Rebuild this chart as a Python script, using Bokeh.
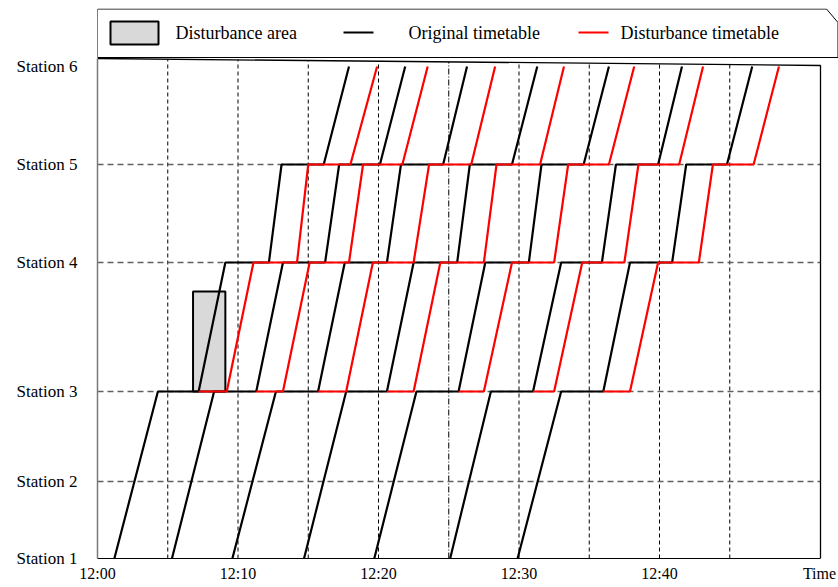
from bokeh.plotting import figure
from bokeh.models import ColumnDataSource, FixedTicker
from bokeh.embed import file_html
from bokeh.resources import INLINE
from bokeh.core.properties import value

# ---------------- data ----------------
station_names = ["Station 1", "Station 2", "Station 3", "Station 4", "Station 5", "Station 6"]
station_km = [0.0, 7.7, 16.7, 29.6, 39.4, 49.2]

time_ticks = [0, 10, 20, 30, 40]              # minutes after 12:00
time_labels = ["12:00", "12:10", "12:20", "12:30", "12:40"]
axis_title = "Time"
grid_minutes = [5, 10, 15, 20, 30, 35, 40, 45]
dashdot_minutes = [25]

train_ids = ["A", "B", "C", "D", "E", "F", "G"]

# original timetable: station index of each point and time (min after 12:00)
original_stops = [0, 2, 2, 3, 3, 4, 4, 5]
original_times = [
    [1.2, 4.3, 7.2, 9.1, 12.2, 13.1, 16.1, 17.9],
    [5.3, 8.3, 11.3, 13.2, 16.2, 17.2, 20.1, 21.9],
    [9.6, 12.7, 15.7, 17.6, 20.6, 21.6, 24.6, 26.3],
    [14.7, 17.7, 20.6, 22.5, 25.6, 26.5, 29.5, 31.3],
    [19.7, 22.7, 25.7, 27.6, 30.7, 31.6, 34.6, 36.4],
    [25.1, 28.0, 31.0, 33.0, 35.9, 36.9, 39.9, 41.6],
    [29.9, 33.0, 36.0, 37.9, 40.9, 41.9, 44.8, 46.6],
]

# disturbance timetable (from Station 3 onward)
disturbed_stops = [2, 2, 3, 3, 4, 4, 5]
disturbed_times = [
    [7.2, 9.2, 11.1, 14.2, 15.0, 18.0, 19.9],
    [11.3, 13.2, 15.1, 17.9, 18.9, 21.7, 23.5],
    [15.7, 17.7, 19.6, 22.5, 23.6, 26.6, 28.3],
    [20.6, 22.5, 24.4, 27.5, 28.4, 31.5, 33.2],
    [25.7, 27.5, 29.5, 32.5, 33.5, 36.4, 38.2],
    [31.0, 32.5, 34.5, 37.5, 38.5, 41.4, 43.1],
    [36.0, 37.9, 39.9, 42.8, 43.8, 46.7, 48.5],
]

disturbance_minutes = [6.8, 9.1]
disturbance_km = [16.7, 26.7]

legend_labels = ["Disturbance area", "Original timetable", "Disturbance timetable"]
legend_colors = ["#d9d9d9", "black", "red"]

FONT = "Liberation Serif"

# ---------------- layout constants (pixels) ----------------
W, H = 838, 587
FL, FR, FT, FB = 97, 838, 8, 558     # frame edges in page pixels
PX_PER_MIN = 14.05
PX_PER_KM = 10.0
X_END = (FR - FL) / PX_PER_MIN
Y_END = (FB - FT) / PX_PER_KM
PLOT_RIGHT = (820 - FL) / PX_PER_MIN   # right border of diagram
TOP_LEFT_Y = (FB - 58) / PX_PER_KM     # slanted top border
TOP_RIGHT_Y = (FB - 65) / PX_PER_KM


def X(px):
    return (px - FL) / PX_PER_MIN


def Y(py):
    return (FB - py) / PX_PER_KM


p = figure(width=W, height=H, x_range=(0, X_END), y_range=(0, Y_END),
           toolbar_location=None, output_backend="svg",
           min_border_left=FL, min_border_right=W - FR,
           min_border_top=FT, min_border_bottom=H - FB)
p.outline_line_color = None
p.grid.visible = False

# axes ("Time" sits in the tick-label row at the right end)
title_pos = X(819.0)
x_ticks = time_ticks + [title_pos]
x_over = {t: l for t, l in zip(time_ticks, time_labels)}
x_over[title_pos] = axis_title
p.xaxis.ticker = FixedTicker(ticks=x_ticks)
p.xaxis.major_label_overrides = x_over
p.xaxis.bounds = (0, PLOT_RIGHT)
p.yaxis.ticker = FixedTicker(ticks=station_km)
p.yaxis.major_label_overrides = {k: n for k, n in zip(station_km, station_names)}
p.yaxis.bounds = (0, TOP_LEFT_Y)
for ax in (p.xaxis, p.yaxis):
    ax.major_tick_line_color = None
    ax.minor_tick_line_color = None
    ax.major_tick_out = 0
    ax.major_tick_in = 0
    ax.major_label_text_font = FONT
    ax.major_label_text_color = "black"
p.xaxis.major_label_text_font_size = "16px"
p.xaxis.major_label_standoff = 6
p.xaxis.axis_line_color = "black"
p.xaxis.axis_line_width = 1.2
p.yaxis.major_label_text_font_size = "17px"
p.yaxis.major_label_standoff = 20
p.yaxis.axis_line_color = "#7a7a7a"
p.yaxis.axis_line_width = 1.5

# dashed reference lines
top_at = lambda m: TOP_LEFT_Y + (TOP_RIGHT_Y - TOP_LEFT_Y) * m / PLOT_RIGHT
p.segment(x0=grid_minutes, y0=[0] * len(grid_minutes), x1=grid_minutes,
          y1=[top_at(m) for m in grid_minutes],
          line_color="black", line_width=1, line_dash="4 3")
p.segment(x0=dashdot_minutes, y0=[0] * len(dashdot_minutes), x1=dashdot_minutes,
          y1=[top_at(m) for m in dashdot_minutes],
          line_color="black", line_width=1, line_dash="6 2 1 2")
inner = station_km[1:5]
p.segment(x0=[0] * len(inner), y0=inner, x1=[PLOT_RIGHT] * len(inner), y1=inner,
          line_color="#606060", line_width=1.3, line_dash="6 4")

# diagram border (right side and slanted top)
p.line(x=[0, PLOT_RIGHT, PLOT_RIGHT], y=[TOP_LEFT_Y, TOP_RIGHT_Y, 0],
       line_color="black", line_width=1.3)

# disturbance area
p.quad(left=[disturbance_minutes[0]], right=[disturbance_minutes[1]],
       bottom=[disturbance_km[0]], top=[disturbance_km[1]],
       fill_color="#d9d9d9", line_color="black", line_width=2)

# trains
orig_src = ColumnDataSource(dict(
    xs=[list(t) for t in original_times],
    ys=[[station_km[s] for s in original_stops] for _ in original_times],
    train=train_ids))
dist_src = ColumnDataSource(dict(
    xs=[list(t) for t in disturbed_times],
    ys=[[station_km[s] for s in disturbed_stops] for _ in disturbed_times],
    train=train_ids))
p.multi_line(xs="xs", ys="ys", source=orig_src, line_color="black", line_width=2.2)
p.multi_line(xs="xs", ys="ys", source=dist_src, line_color="red", line_width=2.2)

# legend box (drawn above the diagram)
p.patch([X(97), X(826), X(837.5), X(837.5), X(97)],
        [Y(8.5), Y(8.5), Y(22), Y(57), Y(57)],
        fill_color=None, line_color="black", line_width=1)
p.quad(left=[X(110)], right=[X(158)], bottom=[Y(44)], top=[Y(21)],
       fill_color=legend_colors[0], line_color="black", line_width=2)
p.segment(x0=[X(343), X(578)], y0=[Y(32), Y(32)], x1=[X(373), X(608)], y1=[Y(32), Y(32)],
          line_color=legend_colors[1:], line_width=2)
p.text(x=[X(175), X(408), X(620)], y=[Y(32)] * 3, text=legend_labels,
       text_font=value(FONT), text_font_size=value("18px"),
       text_baseline=value("middle"), text_align=value("left"),
       text_color="black")

open("out.html", "w").write(file_html(p, INLINE))
